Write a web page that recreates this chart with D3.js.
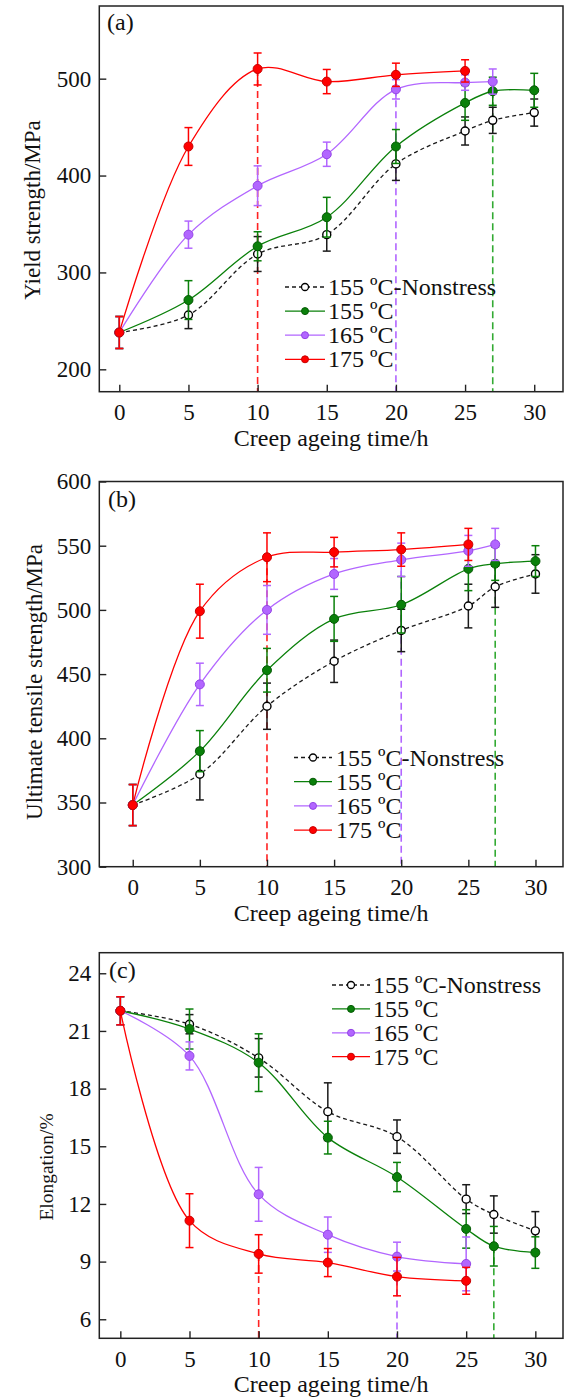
<!DOCTYPE html>
<html>
<head>
<meta charset="utf-8">
<script src="https://cdn.jsdelivr.net/npm/d3@7"></script>
<style>
  body { margin: 0; background: #fff; }
  svg { display: block; font-family: "Liberation Serif", "Times New Roman", serif; }
</style>
</head>
<body>
<div id="chart"></div>
<script>
// creep ageing times (h), shared by every series
const times = [0, 5, 10, 15, 20, 25, 27, 30];
const seriesNames = ["155 ºC-Nonstress", "155 ºC", "165 ºC", "175 ºC"];
// time where each series gets its vertical drop line (peak ageing)
const dropTimes = [null, 27, 20, 10];

// (a) yield strength, MPa
const ysNonstress = [238, 256, 319, 339, 412, 446, 457, 465];
const ys155 = [238, 271.5, 327, 357, 430, 475, 487, 488];
const ys165 = [238, 339, 389.5, 422, 489, 496, 497, null];
const ys175 = [238, 430, 510, 497, 504, 508, null, null];
const ysNonstressErr = [16.5, 14, 18, 17, 17, 14.5, 13.5, 14];
const ys155Err = [16.5, 20, 15, 20.5, 17.5, 18, 14.5, 17.5];
const ys165Err = [16.5, 14, 20.5, 12.5, 10, 8, 13, null];
const ys175Err = [16.5, 19.5, 16.5, 12.5, 12, 11.5, null, null];

// (b) ultimate tensile strength, MPa
const utsNonstress = [348, 372, 425, 460, 484, 503, 518, 528];
const uts155 = [348, 390, 453, 493, 504, 532, 536, 538];
const uts165 = [348, 442, 500, 528, 539, 546, 551, null];
const uts175 = [348, 499, 541, 545, 547, 551, null, null];
const utsNonstressErr = [16, 20, 18, 16.5, 16.5, 17, 16, 15];
const uts155Err = [16, 16, 17, 17.5, 22, 17, 13, 12];
const uts165Err = [16, 16.5, 19, 12, 13, 12, 12.5, null];
const uts175Err = [16, 21, 19, 11.5, 13, 12.5, null, null];

// (c) elongation, %
const elNonstress = [22.05, 21.35, 19.6, 16.8, 15.5, 12.25, 11.45, 10.6];
const el155 = [22.05, 21.1, 19.35, 15.45, 13.4, 10.7, 9.8, 9.47];
const el165 = [22.05, 19.7, 12.5, 10.4, 9.26, 8.88, null, null];
const el175 = [22.05, 11.13, 9.4, 8.95, 8.22, 8.0, null, null];
const elNonstressErr = [0.73, 0.5, 1.0, 1.5, 0.87, 0.75, 0.97, 1.0];
const el155Err = [0.73, 1.04, 1.5, 0.85, 0.76, 1.0, 1.03, 0.82];
const el165Err = [0.73, 0.73, 1.4, 0.92, 0.75, 1.4, null, null];
const el175Err = [0.73, 1.4, 1.0, 0.73, 1.0, 0.7, null, null];

// tick values
const xTicks = [0, 5, 10, 15, 20, 25, 30];
const ysTicks = [200, 300, 400, 500];
const utsTicks = [300, 350, 400, 450, 500, 550, 600];
const elTicks = [6, 9, 12, 15, 18, 21, 24];

// styles per series (nonstress, 155, 165, 175)
const colors = ["#1a1a1a", "#0a800a", "#b266ff", "#ff0000"];
const markerStroke = ["#000000", "#055a05", "#9444e6", "#c80000"];
const markerFill = ["#ffffff", "#0a800a", "#b266ff", "#ff0000"];
const dropColors = [null, "#33aa33", "#b266ff", "#ff2222"];

const width = 568, height = 1398;
const svg = d3.select("#chart").append("svg")
    .attr("width", width)
    .attr("height", height);

const panels = [
    {
        label: "(a)", values: [ysNonstress, ys155, ys165, ys175],
        errors: [ysNonstressErr, ys155Err, ys165Err, ys175Err],
        xDomain: [-1.446, 32.08], yDomain: [176.9, 575], yTicks: ysTicks,
        left: 99.3, right: 563, top: 6, bottom: 391.7,
        yTitle: "Yield strength/MPa", yTitleX: 40, yTitleY: 210, yTitleSize: 23,
        legend: { x0: 285, x1: 325, textX: 328, y0: 287, step: 24.1 },
        labelPos: [107, 30]
    },
    {
        label: "(b)", values: [utsNonstress, uts155, uts165, uts175],
        errors: [utsNonstressErr, uts155Err, uts165Err, uts175Err],
        xDomain: [-2.49, 32.05], yDomain: [300, 600], yTicks: utsTicks,
        left: 99.3, right: 563, top: 481.5, bottom: 866.7,
        yTitle: "Ultimate tensile strength/MPa", yTitleX: 42, yTitleY: 682, yTitleSize: 23,
        legend: { x0: 294, x1: 332, textX: 336, y0: 757.5, step: 24.2 },
        labelPos: [108, 507]
    },
    {
        label: "(c)", values: [elNonstress, el155, el165, el175],
        errors: [elNonstressErr, el155Err, el165Err, el175Err],
        xDomain: [-1.52, 32.0], yDomain: [5.01, 25.07], yTicks: elTicks,
        left: 99.3, right: 563, top: 952.7, bottom: 1338.3,
        yTitle: "Elongation/%", yTitleX: 53, yTitleY: 1167, yTitleSize: 19.5,
        legend: { x0: 332, x1: 370, textX: 373, y0: 985, step: 23.9 },
        labelPos: [109, 978]
    }
];

panels.forEach(p => drawPanel(p));

function drawPanel(p) {
    const xScale = d3.scaleLinear().domain(p.xDomain).range([p.left, p.right]);
    const yScale = d3.scaleLinear().domain(p.yDomain).range([p.bottom, p.top]);
    const g = svg.append("g");

    // vertical dashed drop lines from the peak points down to the axis
    p.values.forEach((vals, i) => {
        const t = dropTimes[i];
        if (t == null) return;
        const v = vals[times.indexOf(t)];
        g.append("line")
            .attr("x1", xScale(t)).attr("x2", xScale(t))
            .attr("y1", yScale(v)).attr("y2", p.bottom)
            .attr("stroke", dropColors[i])
            .attr("stroke-width", 1.6)
            .attr("stroke-dasharray", "7,4");
    });

    // series: curve, error bars, markers
    p.values.forEach((vals, i) => {
        const pts = times.map((t, j) => ({ t: t, v: vals[j], e: p.errors[i][j] }))
            .filter(d => d.v != null);

        const line = d3.line()
            .x(d => xScale(d.t))
            .y(d => yScale(d.v))
            .curve(d3.curveCatmullRom.alpha(0.5));

        g.append("path")
            .attr("d", line(pts))
            .attr("fill", "none")
            .attr("stroke", colors[i])
            .attr("stroke-width", 1.3)
            .attr("stroke-dasharray", i === 0 ? "4,3" : null);

        const bars = g.append("g")
            .attr("stroke", colors[i])
            .attr("stroke-width", 1.5);
        pts.forEach(d => {
            const cx = xScale(d.t), yHi = yScale(d.v + d.e), yLo = yScale(d.v - d.e);
            bars.append("line").attr("x1", cx).attr("x2", cx).attr("y1", yHi).attr("y2", yLo);
            bars.append("line").attr("x1", cx - 4).attr("x2", cx + 4).attr("y1", yHi).attr("y2", yHi);
            bars.append("line").attr("x1", cx - 4).attr("x2", cx + 4).attr("y1", yLo).attr("y2", yLo);
        });

        g.selectAll(null)
            .data(pts)
            .join("circle")
            .attr("cx", d => xScale(d.t))
            .attr("cy", d => yScale(d.v))
            .attr("r", i === 0 ? 4 : 4.5)
            .attr("fill", markerFill[i])
            .attr("stroke", markerStroke[i])
            .attr("stroke-width", i === 0 ? 1.4 : 1);
    });

    // axes with inward ticks
    const xAxis = g.append("g")
        .attr("transform", `translate(0,${p.bottom})`)
        .call(d3.axisBottom(xScale).tickValues(xTicks).tickSize(-7).tickSizeOuter(0).tickPadding(12));
    const yAxis = g.append("g")
        .attr("transform", `translate(${p.left},0)`)
        .call(d3.axisLeft(yScale).tickValues(p.yTicks).tickSize(-7).tickSizeOuter(0).tickPadding(8));
    [xAxis, yAxis].forEach(ax => {
        ax.select(".domain").remove();
        ax.selectAll(".tick line").attr("stroke", "#222").attr("stroke-width", 1.4);
        ax.selectAll(".tick text")
            .attr("fill", "#111")
            .style("font-family", "'Liberation Serif', 'Times New Roman', serif")
            .style("font-size", "23px");
    });

    // frame
    g.append("rect")
        .attr("x", p.left).attr("y", p.top)
        .attr("width", p.right - p.left).attr("height", p.bottom - p.top)
        .attr("fill", "none")
        .attr("stroke", "#222")
        .attr("stroke-width", 1.5);

    // axis titles
    g.append("text")
        .attr("x", (p.left + p.right) / 2)
        .attr("y", p.bottom + 54)
        .attr("text-anchor", "middle")
        .attr("font-size", 24)
        .attr("fill", "#111")
        .text("Creep ageing time/h");

    g.append("text")
        .attr("transform", `translate(${p.yTitleX},${p.yTitleY}) rotate(-90)`)
        .attr("text-anchor", "middle")
        .attr("font-size", p.yTitleSize)
        .attr("fill", "#111")
        .text(p.yTitle);

    // panel label
    g.append("text")
        .attr("x", p.labelPos[0]).attr("y", p.labelPos[1])
        .attr("font-size", 24)
        .attr("fill", "#111")
        .text(p.label);

    // legend
    const lg = g.append("g");
    seriesNames.forEach((name, i) => {
        const cy = p.legend.y0 + i * p.legend.step;
        lg.append("line")
            .attr("x1", p.legend.x0).attr("x2", p.legend.x1)
            .attr("y1", cy).attr("y2", cy)
            .attr("stroke", colors[i])
            .attr("stroke-width", 1.3)
            .attr("stroke-dasharray", i === 0 ? "4,3" : null);
        lg.append("circle")
            .attr("cx", (p.legend.x0 + p.legend.x1) / 2)
            .attr("cy", cy)
            .attr("r", 3.5)
            .attr("fill", markerFill[i])
            .attr("stroke", markerStroke[i])
            .attr("stroke-width", i === 0 ? 1.3 : 1);
        lg.append("text")
            .attr("x", p.legend.textX)
            .attr("y", cy + 8)
            .attr("font-size", 24)
            .attr("fill", "#111")
            .text(name);
    });
}
</script>
</body>
</html>
